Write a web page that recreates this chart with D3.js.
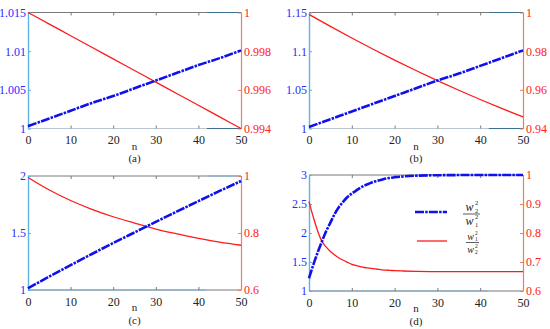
<!DOCTYPE html>
<html><head><meta charset="utf-8">
<script src="https://cdn.jsdelivr.net/npm/d3@7"></script>
<style>body{margin:0;background:#fff}svg{display:block}</style>
</head><body><svg id="c" width="550" height="329"></svg>
<script>
// ---- data ----
const xTicks = [0, 10, 20, 30, 40, 50];
const n5 = [0, 5, 10, 15, 20, 25, 30, 35, 40, 45, 50];
const nD = [0,1,2,3,4,5,6,7,8,9,10,11,12,13,14,15,16,17,18,19,20,22,25,30,35,40,45,50];

const aBlue = [1.0003, 1.0013, 1.0023, 1.0033, 1.0042, 1.0052, 1.0062, 1.0072, 1.0082, 1.0091, 1.0101];
const aRed  = [1.0000, 0.9994, 0.9988, 0.9982, 0.9976, 0.9970, 0.9964, 0.9958, 0.9952, 0.9946, 0.9940];
const bBlue = [1.002, 1.012, 1.022, 1.032, 1.042, 1.052, 1.062, 1.071, 1.081, 1.091, 1.101];
const bRed  = [0.999, 0.9928, 0.9868, 0.9810, 0.9754, 0.9700, 0.9648, 0.9598, 0.9550, 0.9504, 0.9460];
const cBlue = [1.015, 1.118, 1.218, 1.316, 1.412, 1.505, 1.598, 1.689, 1.780, 1.869, 1.956];
const cRed  = [0.995, 0.951, 0.914, 0.883, 0.857, 0.835, 0.814, 0.797, 0.781, 0.768, 0.757];
const dBlue = [1.22,1.45,1.66,1.85,2.03,2.18,2.33,2.45,2.54,2.62,2.68,2.73,2.78,2.82,2.85,2.88,2.90,2.92,2.94,2.95,2.96,2.975,2.988,2.996,2.999,3.0,3.0,3.0];
const dRed  = [0.908,0.855,0.808,0.772,0.752,0.736,0.724,0.714,0.706,0.699,0.692,0.688,0.684,0.681,0.679,0.677,0.675,0.673,0.672,0.671,0.670,0.669,0.668,0.667,0.667,0.667,0.667,0.667];

const aLeftTicks = [1, 1.005, 1.01, 1.015];
const aRightTicks = [0.994, 0.996, 0.998, 1];
const bLeftTicks = [1, 1.05, 1.1, 1.15];
const bRightTicks = [0.94, 0.96, 0.98, 1];
const cLeftTicks = [1, 1.5, 2];
const cRightTicks = [0.6, 0.8, 1];
const dLeftTicks = [1, 1.5, 2, 2.5, 3];
const dRightTicks = [0.6, 0.7, 0.8, 0.9, 1];
const panelLabels = ["(a)", "(b)", "(c)", "(d)"];

// ---- layout ----
const panels = [
  {x0:28, x1:241, y0:12.5, y1:128.5, n:n5, blue:aBlue, red:aRed, ld:[1,1.015], rd:[0.994,1], lt:aLeftTicks, rt:aRightTicks, bottomTeal:false},
  {x0:309, x1:523, y0:12.5, y1:128.5, n:n5, blue:bBlue, red:bRed, ld:[1,1.15], rd:[0.94,1], lt:bLeftTicks, rt:bRightTicks, bottomTeal:false},
  {x0:28, x1:241, y0:176, y1:290, n:n5, blue:cBlue, red:cRed, ld:[1,2], rd:[0.6,1], lt:cLeftTicks, rt:cRightTicks, bottomTeal:true},
  {x0:309, x1:523, y0:175, y1:291, n:nD, blue:dBlue, red:dRed, ld:[1,3], rd:[0.6,1], lt:dLeftTicks, rt:dRightTicks, bottomTeal:true}
];

const svg = d3.select("#c");
const FONT = "'Liberation Serif', 'Times New Roman', serif";
const GRAY = "#7a7a7a", TEAL = "#3b6f8e", LBLUE = "#5eb2e4", SALMON = "#f07a66";
const DASH = "9,1.2,2.5,1.2";

panels.forEach((p, i) => {
  const x = d3.scaleLinear().domain([0, 50]).range([p.x0, p.x1]);
  const yl = d3.scaleLinear().domain(p.ld).range([p.y1, p.y0]);
  const yr = d3.scaleLinear().domain(p.rd).range([p.y1, p.y0]);
  const g = svg.append("g");

  // frame segments top/bottom
  const split = x(42);
  g.append("line").attr("x1", p.x0).attr("x2", split).attr("y1", p.y0).attr("y2", p.y0).attr("stroke", GRAY).attr("stroke-width", 1.2);
  g.append("line").attr("x1", split).attr("x2", p.x1).attr("y1", p.y0).attr("y2", p.y0).attr("stroke", TEAL).attr("stroke-width", 1.2);
  g.append("line").attr("x1", p.x0).attr("x2", split).attr("y1", p.y1).attr("y2", p.y1)
    .attr("stroke", p.bottomTeal ? TEAL : "#b9c6cf").attr("stroke-width", 1.2);
  g.append("line").attr("x1", split).attr("x2", p.x1).attr("y1", p.y1).attr("y2", p.y1)
    .attr("stroke", p.bottomTeal ? GRAY : TEAL).attr("stroke-width", 1.2);

  // x axis bottom (labels + inward ticks)
  const xb = g.append("g").attr("transform", `translate(0,${p.y1})`)
    .call(d3.axisBottom(x).tickValues(xTicks).tickSize(-3).tickSizeOuter(0).tickPadding(7).tickFormat(d3.format("d")));
  xb.select(".domain").remove();
  xb.selectAll("line").attr("stroke", GRAY);
  xb.selectAll("text").attr("fill", "#222").style("font-family", FONT).style("font-size", "12px");
  // top ticks
  const xt = g.append("g").attr("transform", `translate(0,${p.y0})`)
    .call(d3.axisTop(x).tickValues(xTicks).tickSize(-3).tickSizeOuter(0).tickFormat(""));
  xt.select(".domain").remove();
  xt.selectAll("line").attr("stroke", GRAY);

  // n label and panel label
  g.append("text").attr("x", x(25)).attr("y", p.y1 + 21).attr("text-anchor", "middle")
    .style("font-family", FONT).style("font-size", "11px").attr("fill", "#222").text("n");
  g.append("text").attr("x", x(25)).attr("y", p.y1 + 33.5).attr("text-anchor", "middle")
    .style("font-family", FONT).style("font-size", "11px").attr("fill", "#222").text(panelLabels[i]);

  // left axis
  const la = g.append("g").attr("transform", `translate(${p.x0},0)`)
    .call(d3.axisLeft(yl).tickValues(p.lt).tickSize(-3).tickSizeOuter(0).tickPadding(2).tickFormat(d => String(d)));
  la.select(".domain").attr("stroke", LBLUE).attr("stroke-width", 1.4);
  la.selectAll("line").attr("stroke", LBLUE);
  la.selectAll("text").attr("fill", "#2a2aff").style("font-family", FONT).style("font-size", "12px");

  // right axis
  const ra = g.append("g").attr("transform", `translate(${p.x1},0)`)
    .call(d3.axisRight(yr).tickValues(p.rt).tickSize(-3).tickSizeOuter(0).tickPadding(3).tickFormat(d => String(d)));
  ra.select(".domain").attr("stroke", SALMON).attr("stroke-width", 1.2);
  ra.selectAll("line").attr("stroke", SALMON);
  ra.selectAll("text").attr("fill", "#ff2020").style("font-family", FONT).style("font-size", "12px");

  // series
  const redLine = d3.line().x((d, k) => x(p.n[k])).y(d => yr(d)).curve(d3.curveMonotoneX);
  const blueLine = d3.line().x((d, k) => x(p.n[k])).y(d => yl(d)).curve(d3.curveMonotoneX);
  g.append("path").datum(p.red).attr("d", redLine).attr("fill", "none")
    .attr("stroke", "#ff1a1a").attr("stroke-width", 1.3);
  g.append("path").datum(p.blue).attr("d", blueLine).attr("fill", "none")
    .attr("stroke", "#1010ee").attr("stroke-width", 2.6).attr("stroke-dasharray", DASH);
});

// ---- legend in (d) ----
const lg = svg.append("g");
lg.append("line").attr("x1", 415).attr("x2", 447).attr("y1", 212).attr("y2", 212)
  .attr("stroke", "#1010ee").attr("stroke-width", 2.4).attr("stroke-dasharray", DASH);
lg.append("line").attr("x1", 417).attr("x2", 447).attr("y1", 241).attr("y2", 241)
  .attr("stroke", "#ff1a1a").attr("stroke-width", 1.3);

function frac(cx, barY, numSub, denSub, big) {
  const fs = big ? 12 : 10;
  const sfs = big ? 6.5 : 5.5;
  const w = big ? 17 : 13;
  lg.append("line").attr("x1", cx - w / 2).attr("x2", cx + w / 2).attr("y1", barY).attr("y2", barY)
    .attr("stroke", "#333").attr("stroke-width", 0.8);
  [[numSub, barY - 3], [denSub, barY + (big ? 11 : 10)]].forEach(([sub, by]) => {
    lg.append("text").attr("x", cx - 2).attr("y", by).attr("text-anchor", "middle")
      .style("font-family", FONT).style("font-style", "italic").style("font-size", fs + "px").attr("fill", "#222").text("w");
    lg.append("text").attr("x", cx + (big ? 3.5 : 2.5)).attr("y", by - fs * 0.5).style("font-family", FONT)
      .style("font-size", sfs + "px").attr("fill", "#222").text("2");
    lg.append("text").attr("x", cx + (big ? 3.5 : 2.5)).attr("y", by + 1.5).style("font-family", FONT)
      .style("font-size", sfs + "px").attr("fill", "#222").text(sub);
  });
}
frac(471.5, 214, "2", "1", true);
frac(472.5, 242.5, "1", "2", false);
</script></body></html>
